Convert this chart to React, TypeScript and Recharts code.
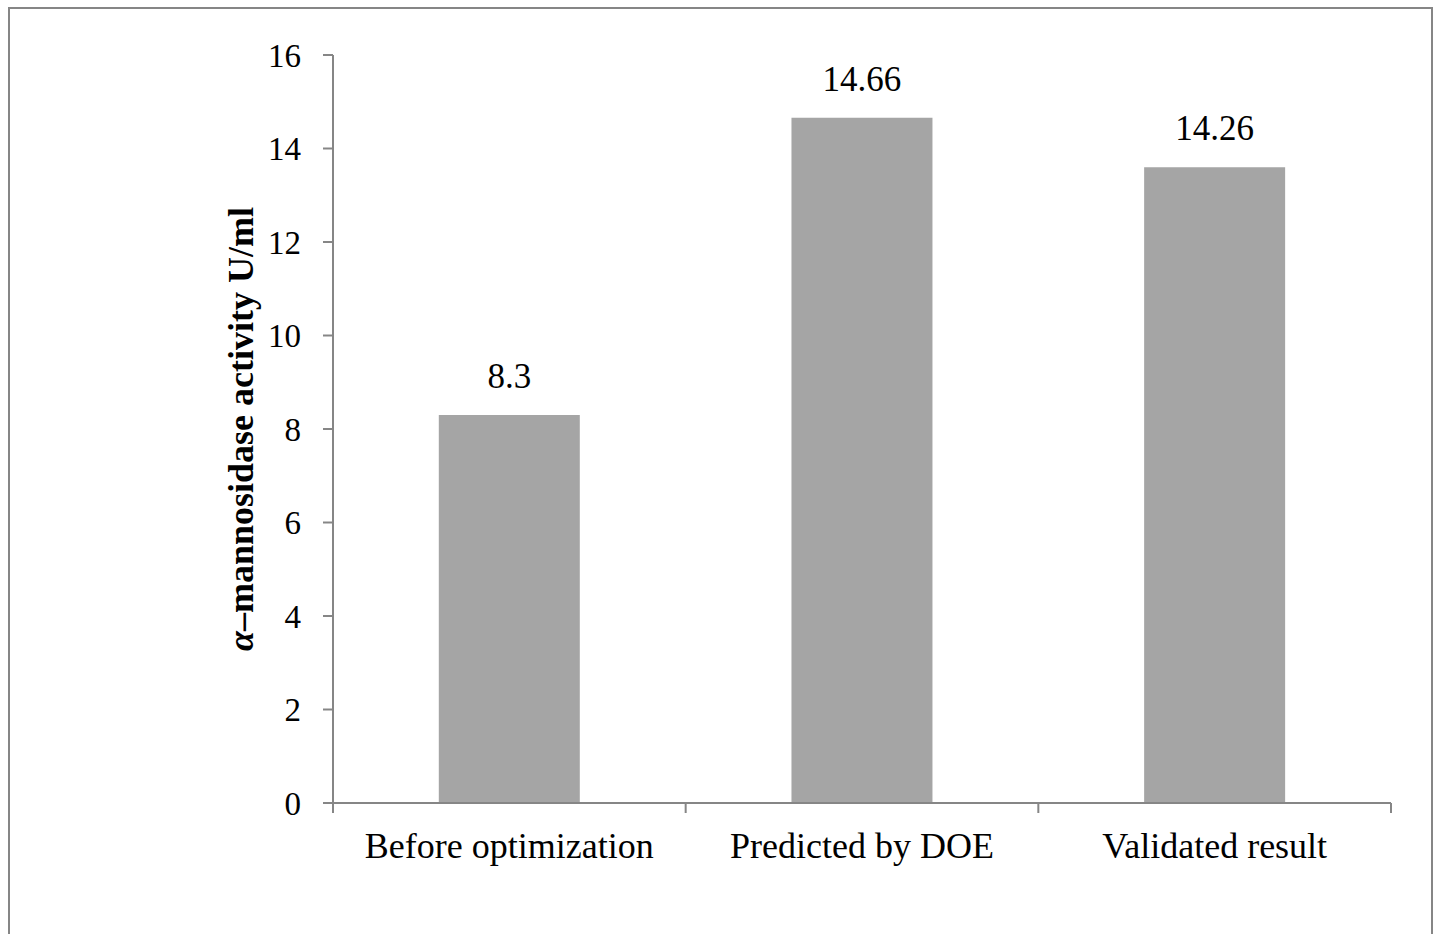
import React from "react";
import { BarChart, Bar, XAxis, YAxis, LabelList } from "recharts";

const categories = ["Before optimization", "Predicted by DOE", "Validated result"];
const activity = [8.3, 14.66, 13.6];
const valueLabels = ["8.3", "14.66", "14.26"];
const yTicks = [0, 2, 4, 6, 8, 10, 12, 14, 16];

const data = categories.map((name, i) => ({
  name,
  activity: activity[i],
  label: valueLabels[i],
}));

const FONT = "'Liberation Serif', 'Times New Roman', serif";
const AXIS = "#868686";

function YLabel({ viewBox }: any) {
  const cx = 241;
  const cy = viewBox.y + viewBox.height / 2;
  return (
    <text
      x={cx}
      y={cy}
      transform={`rotate(-90, ${cx}, ${cy})`}
      textAnchor="middle"
      dominantBaseline="central"
      fontFamily={FONT}
      fontSize={36}
      fontWeight="bold"
      fill="#000"
    >
      <tspan fontStyle="italic">α</tspan>
      <tspan>–mannosidase activity U/ml</tspan>
    </text>
  );
}

// category label plus tick marks on the category edges (Excel style)
function CatTick(props: any) {
  const { x, y, payload, index, visibleTicksCount, width } = props;
  const half = payload?.offset || width / visibleTicksCount / 2;
  const last = index === visibleTicksCount - 1;
  return (
    <g>
      <line x1={x - half} x2={x - half} y1={y} y2={y + 10} stroke={AXIS} strokeWidth={2} />
      {last && <line x1={x + half} x2={x + half} y1={y} y2={y + 10} stroke={AXIS} strokeWidth={2} />}
      <text x={x} y={y + 29} dy="0.71em" textAnchor="middle" fontFamily={FONT} fontSize={36} fill="#000">
        {payload.value}
      </text>
    </g>
  );
}

export default function App() {
  return (
    <div style={{ position: "absolute", left: 0, top: 0, width: 1442, height: 934, background: "#fff", overflow: "hidden" }}>
      <div
        style={{
          position: "absolute",
          left: 8,
          top: 7,
          width: 1425,
          height: 960,
          border: `2px solid ${AXIS}`,
          boxSizing: "border-box",
        }}
      />
      <div style={{ position: "absolute", left: 0, top: 0 }}>
        <BarChart
          width={1442}
          height={934}
          data={data}
          margin={{ top: 55, right: 51, bottom: 81, left: 273 }}
          barCategoryGap="30%"
        >
          <XAxis
            dataKey="name"
            axisLine={{ stroke: AXIS, strokeWidth: 2 }}
            tickLine={false}
            tickSize={0}
            tickMargin={0}
            height={50}
            interval={0}
            tick={<CatTick />}
          />
          <YAxis
            domain={[0, 16]}
            ticks={yTicks}
            width={60}
            axisLine={{ stroke: AXIS, strokeWidth: 2 }}
            tickLine={{ stroke: AXIS, strokeWidth: 2 }}
            tickSize={10}
            tickMargin={22}
            tick={{ fontFamily: FONT, fontSize: 33, fill: "#000" }}
            label={<YLabel />}
          />
          <Bar dataKey="activity" fill="#a5a5a5" isAnimationActive={false}>
            <LabelList
              dataKey="label"
              position="top"
              offset={27}
              style={{ fontFamily: FONT, fontSize: 35, fill: "#000" }}
            />
          </Bar>
        </BarChart>
      </div>
    </div>
  );
}
